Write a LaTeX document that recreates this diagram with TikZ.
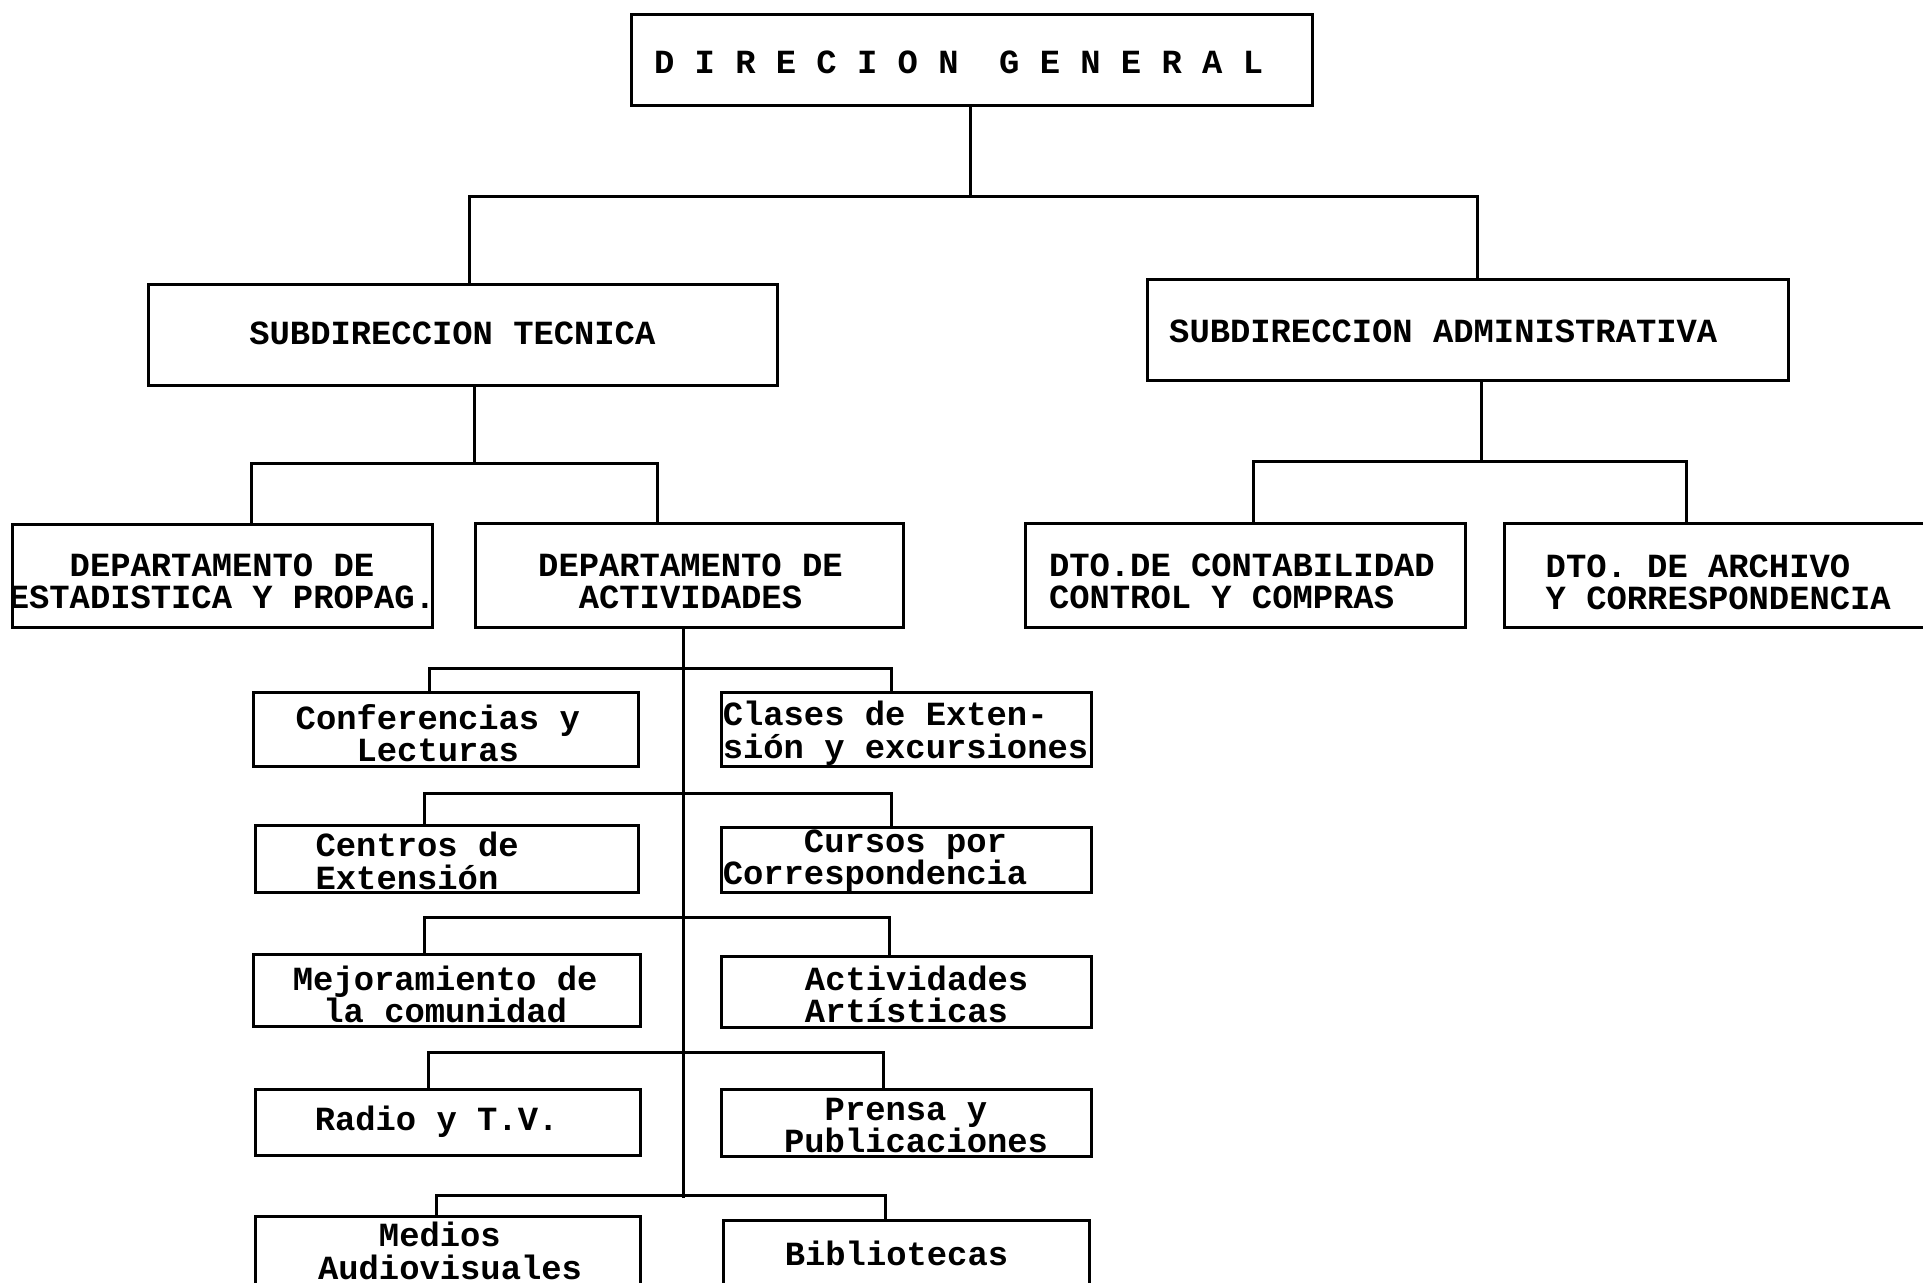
\documentclass[tikz,border=0pt]{standalone}
\usepackage{fontspec}
\setmonofont{Liberation Mono}
\usetikzlibrary{fit}
\tikzset{
  box/.style={draw, line width=1.4pt, inner sep=0pt},
  txt/.style={font=\ttfamily\bfseries\fontsize{15.7}{15}\selectfont, inner sep=0pt},
  conn/.style={line width=1.4pt},
}
\begin{document}
\begin{tikzpicture}[x=0.02cm,y=-0.02cm]
\useasboundingbox[fill=white] (0,0) rectangle (1568,1046);
% boxes
\node[box, fit={(515,12) (1070,86)}] (dg) {};
\node[box, fit={(121,232) (634,314)}] (st) {};
\node[box, fit={(936,228) (1458,310)}] (sa) {};
\node[box, fit={(10,428) (353,512)}] (de) {};
\node[box, fit={(388,427) (737,512)}] (da) {};
\node[box, fit={(836,427) (1195,512)}] (dc) {};
\node[box, fit={(1227,427) (1600,512)}] (dr) {};
\node[box, fit={(207,565) (521,625)}] (c1L) {};
\node[box, fit={(588,565) (890,625)}] (c1R) {};
\node[box, fit={(208,673) (521,728)}] (c2L) {};
\node[box, fit={(588,675) (890,728)}] (c2R) {};
\node[box, fit={(207,778) (522,837)}] (c3L) {};
\node[box, fit={(588,780) (890,838)}] (c3R) {};
\node[box, fit={(208,888) (522,942)}] (c4L) {};
\node[box, fit={(588,888) (890,943)}] (c4R) {};
\node[box, fit={(208,992) (522,1060)}] (c5L) {};
\node[box, fit={(590,995) (888,1060)}] (c5R) {};
% texts
\node[txt, anchor=west] (tdg) at (533,51) {D~I~R~E~C~I~O~N~~G~E~N~E~R~A~L};
\node[txt, anchor=west] (tst) at (203,272) {SUBDIRECCION TECNICA};
\node[txt, anchor=west] (tsa) at (953,270) {SUBDIRECCION ADMINISTRATIVA};
\node[txt, align=center] (tde) at (181,474) {DEPARTAMENTO DE\\ESTADISTICA Y PROPAG.};
\node[txt, align=center] (tda) at (563,474) {DEPARTAMENTO DE\\ACTIVIDADES};
\node[txt, align=left, anchor=west] (tdc) at (855,474) {DTO.DE CONTABILIDAD\\CONTROL Y COMPRAS};
\node[txt, align=left, anchor=west] (tdr) at (1260,475) {DTO. DE ARCHIVO\\Y CORRESPONDENCIA};
\node[txt, align=center] (t1L) at (357,598) {Conferencias y\\Lecturas};
\node[txt, align=left, anchor=west] (t1R) at (589,598) {Clases de Exten-\\sión y excursiones};
\node[txt, align=left, anchor=west] (t2L) at (257,702) {Centros de\\Extensión};
\node[txt, align=left, anchor=west] (t2R) at (589,702) {\hphantom{0000}Cursos por\\Correspondencia};
\node[txt, align=center] (t3L) at (363,811) {Mejoramiento de\\la comunidad};
\node[txt, align=left, anchor=west] (t3R) at (656,811) {Actividades\\Artísticas};
\node[txt] (t4L) at (356,915) {Radio y T.V.};
\node[txt, align=left, anchor=west] (t4R) at (639,918) {\hphantom{00}Prensa y\\Publicaciones};
\node[txt, align=left, anchor=west] (t5L) at (259,1020) {\hphantom{000}Medios\\Audiovisuales};
\node[txt] (t5R) at (731,1022) {Bibliotecas};
% junction coordinates
\coordinate (j0) at (791,160);
\coordinate (jL) at (383,160);
\coordinate (jR) at (1205,160);
\coordinate (k0) at (387,378);
\coordinate (kL) at (205,378);
\coordinate (kR) at (536,378);
\coordinate (m0) at (1208,376);
\coordinate (mL) at (1022,376);
\coordinate (mR) at (1375,376);
\coordinate (tb) at (557,977);
\coordinate (b1L) at (350,545); \coordinate (b1R) at (727,545);
\coordinate (b2L) at (346,647); \coordinate (b2R) at (727,647);
\coordinate (b3L) at (346,748); \coordinate (b3R) at (725,748);
\coordinate (b4L) at (349,858); \coordinate (b4R) at (720,858);
\coordinate (b5L) at (356,975); \coordinate (b5R) at (722,975);
% connectors
\draw[conn] (dg.south -| j0) -- (j0);
\draw[conn] (st.north -| jL) -- (jL) -- (jR) -- (sa.north -| jR);
\draw[conn] (st.south -| k0) -- (k0);
\draw[conn] (de.north -| kL) -- (kL) -- (kR) -- (da.north -| kR);
\draw[conn] (sa.south -| m0) -- (m0);
\draw[conn] (dc.north -| mL) -- (mL) -- (mR) -- (dr.north -| mR);
\draw[conn] (da.south -| tb) -- (tb);
\draw[conn] (c1L.north -| b1L) -- (b1L) -- (b1R) -- (c1R.north -| b1R);
\draw[conn] (c2L.north -| b2L) -- (b2L) -- (b2R) -- (c2R.north -| b2R);
\draw[conn] (c3L.north -| b3L) -- (b3L) -- (b3R) -- (c3R.north -| b3R);
\draw[conn] (c4L.north -| b4L) -- (b4L) -- (b4R) -- (c4R.north -| b4R);
\draw[conn] (c5L.north -| b5L) -- (b5L) -- (b5R) -- (c5R.north -| b5R);
\end{tikzpicture}
\end{document}
